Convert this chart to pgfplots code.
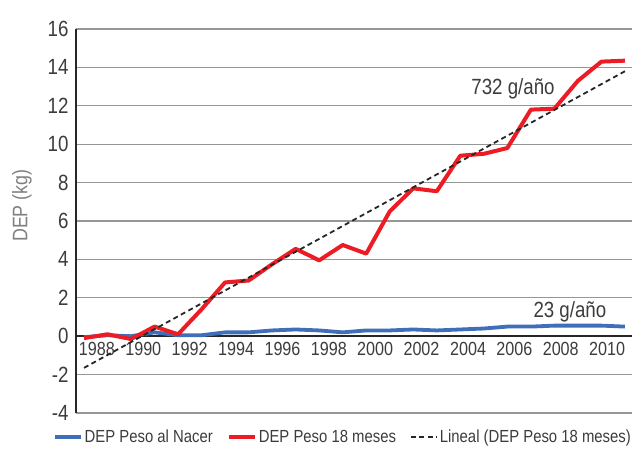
\documentclass[border=0pt]{standalone}
\usepackage{fontspec}
\setmainfont{Liberation Sans}[FakeStretch=0.85]
\usepackage{pgfplots}
\pgfplotsset{compat=1.18}
\definecolor{cred}{RGB}{237,28,36}
\definecolor{cblue}{RGB}{62,111,184}
\definecolor{ctxt}{RGB}{60,60,60}
\definecolor{cgrid}{RGB}{150,150,150}
\begin{document}
\begin{tikzpicture}
\begin{axis}[
  scale only axis, width=556pt, height=384pt,
  xmin=1987.66, xmax=2011.30, ymin=-4, ymax=16,
  axis x line=middle, axis y line=left,
  axis line style={-, line width=1.6pt, black!85},
  hide obscured x ticks=false, hide obscured y ticks=false,
  ytick={-4,-2,0,2,4,6,8,10,12,14,16},
  yticklabels={-4,-2,0,2,4,6,8,10,12,14,16},
  xtick={1988.55,1990.52,1992.49,1994.47,1996.44,1998.41,2000.38,2002.35,2004.33,2006.30,2008.27,2010.24},
  xticklabels={1988,1990,1992,1994,1996,1998,2000,2002,2004,2006,2008,2010},
  major tick length=0pt,
  ymajorgrids, grid style={cgrid, line width=1.3pt},
  yticklabel style={font=\fontsize{22}{24}\selectfont, text=ctxt, xshift=-4pt},
  xticklabel style={font=\fontsize{19}{20}\selectfont, text=ctxt, yshift=-3pt},
  ylabel={DEP (kg)},
  ylabel style={at={(axis description cs:-0.097,0.54)}, anchor=center, font=\fontsize{21}{23}\selectfont, text=gray},
  legend columns=3,
  legend style={at={(axis description cs:0.48,-0.0625)}, anchor=center, draw=none, fill=none,
    font=\fontsize{17.5}{19}\selectfont, text=ctxt,
    /tikz/every even column/.append style={column sep=12pt}},
  legend image code/.code={\draw[#1] (0pt,0pt) -- (26pt,0pt);},
  clip=false,
]
\addplot[cblue, line width=3.8pt, line join=round] coordinates {
(1988,-0.05) (1989,0.05) (1990,0.0) (1991,0.2) (1992,0.05) (1993,0.05)
(1994,0.2) (1995,0.2) (1996,0.3) (1997,0.35) (1998,0.3) (1999,0.2)
(2000,0.3) (2001,0.3) (2002,0.35) (2003,0.3) (2004,0.35) (2005,0.4)
(2006,0.5) (2007,0.5) (2008,0.55) (2009,0.55) (2010,0.55) (2011,0.5)};
\addlegendentry{DEP Peso al Nacer}
\addplot[cred, line width=4pt, line join=round] coordinates {
(1988,-0.1) (1989,0.1) (1990,-0.15) (1991,0.5) (1992,0.1) (1993,1.4)
(1994,2.8) (1995,2.9) (1996,3.75) (1997,4.55) (1998,3.95) (1999,4.75)
(2000,4.3) (2001,6.5) (2002,7.7) (2003,7.55) (2004,9.4) (2005,9.5)
(2006,9.8) (2007,11.8) (2008,11.85) (2009,13.3) (2010,14.3) (2011,14.35)};
\addlegendentry{DEP Peso 18 meses}
\addplot[black!85, line width=1.8pt, dash pattern=on 5pt off 3.5pt] coordinates {
(1988,-1.65) (2011,13.8)};
\addlegendentry{Lineal (DEP Peso 18 meses)}
\node[anchor=base, font=\fontsize{22}{24}\selectfont, text=ctxt] at (axis cs:2006.24,12.59) {732 g/año};
\node[anchor=base, font=\fontsize{22}{24}\selectfont, text=ctxt] at (axis cs:2008.66,0.95) {23 g/año};
\coordinate (bl) at (rel axis cs:0,0);
\end{axis}
\pgfresetboundingbox
\path[use as bounding box] (bl) ++(-76pt,-36pt) rectangle ++(633pt,449pt);
\end{tikzpicture}
\end{document}
